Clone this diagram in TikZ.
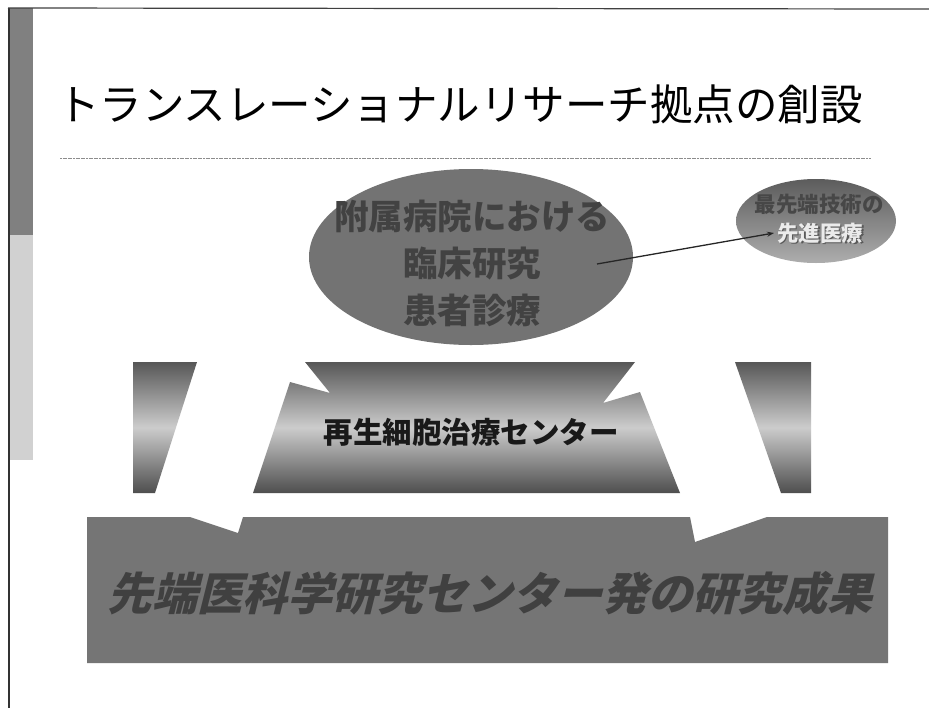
\documentclass[tikz,border=0pt]{standalone}
\usepackage{fontspec}
\usetikzlibrary{arrows.meta}
\newfontfamily\jp{Noto Sans CJK JP}
\newfontfamily\jpit{Noto Sans CJK JP}[FakeSlant=0.25]
\definecolor{stripdark}{gray}{0.50}
\definecolor{striplight}{gray}{0.82}
\definecolor{bigell}{gray}{0.45}
\definecolor{bigtxt}{gray}{0.26}
\definecolor{boxgray}{gray}{0.46}
\definecolor{boxtxt}{gray}{0.25}
\definecolor{shdark}{gray}{0.34}
\definecolor{shlight}{gray}{0.80}
\tikzset{
  midshade/.style={top color=shdark, bottom color=shdark!90!black, middle color=shlight, draw=none},
  jptext/.style={inner sep=0pt, outer sep=0pt, align=center},
}
\begin{document}
\begin{tikzpicture}[x=1pt,y=-1pt]
\useasboundingbox (0,0) rectangle (929,710);
\fill[white] (0,0) rectangle (929,710);
% frame and left strip
\fill[stripdark] (10,8) rectangle (33,235);
\fill[striplight] (10,235) rectangle (33,460);
\draw[line width=1.2pt, black!80] (9,8) -- (9,708);
\draw[line width=1.2pt, black!75] (8,8) -- (929,9);
% title
\node[jptext, font=\jp\fontsize{42.5}{46}\selectfont] (title) at (460,104) {トランスレーショナルリサーチ拠点の創設};
\draw[line width=0.8pt, black!45, dash pattern=on 2pt off 0.6pt] (60,158) -- (871,158);
% bottom box
\fill[boxgray] (87,517) -- (190,517) -- (238,533) -- (243,517) -- (690,517) -- (695,542) -- (767,517) -- (888,517) -- (888,663) -- (87,663) -- cycle;
\node[jptext, font=\jpit\bfseries\fontsize{45}{49}\selectfont, text=boxtxt] (res) at (490,593) {先端医科学研究センター発の研究成果};
% middle gradient pieces
\shade[midshade] (133,362) -- (197,362) -- (155,493) -- (133,493) -- cycle;
\shade[midshade] (735,362) -- (811,362) -- (811,493) -- (781,493) -- cycle;
\shade[midshade] (305,362) -- (635,362) -- (603,403) -- (640,392) -- (680,493) -- (253,493) -- (290,382) -- (330,393) -- cycle;
\node[jptext, font=\jp\bfseries\fontsize{29.5}{32}\selectfont, text=black!90] (regen) at (471,432) {再生細胞治療センター};
% big ellipse
\fill[bigell] (471,257) ellipse [x radius=162, y radius=88];
\node[jptext, font=\jp\bfseries\fontsize{34.5}{47}\selectfont, text=bigtxt] (hosp) at (472,263) {附属病院における\\臨床研究\\患者診療};
% small ellipse
\shade[top color=black!64, bottom color=black!32] (816,221) ellipse [x radius=80, y radius=42];
\node[jptext, font=\jp\bfseries\fontsize{21.5}{24}\selectfont, text=black!72] (adv1) at (819,204) {最先端技術の};
\node[jptext, font=\jp\bfseries\fontsize{21.5}{24}\selectfont, text=black!65] at (821.5,234.5) {先進医療};
\node[jptext, font=\jp\bfseries\fontsize{21.5}{24}\selectfont, text=black!8] (adv2) at (820,233) {先進医療};
% connector
\coordinate (from) at (597,264);
\coordinate (to) at ([xshift=-3pt]adv2.west);
\draw[line width=1.3pt, black!85, -{Stealth[length=7pt,width=5pt]}] (from) -- (to);
\end{tikzpicture}
\end{document}
